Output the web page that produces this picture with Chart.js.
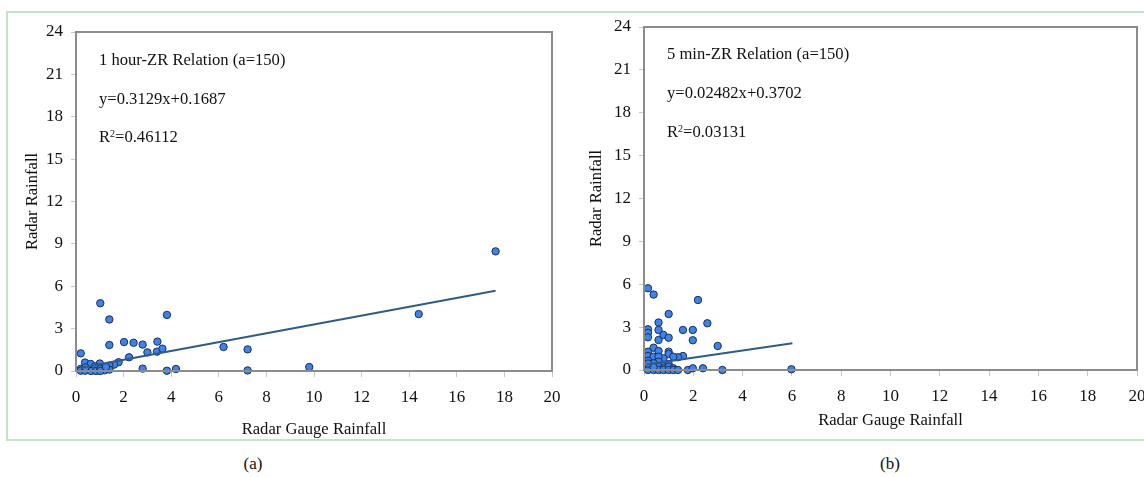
<!DOCTYPE html>
<html>
<head>
<meta charset="utf-8">
<script src="https://cdn.jsdelivr.net/npm/chart.js@4/dist/chart.umd.min.js"></script>
<style>
  body { margin: 0; background: #fff; width: 1144px; height: 477px; overflow: hidden; position: relative; }
  .frame { position: absolute; left: 6px; top: 11px; width: 1160px; height: 430px; border: 2px solid #c4e4c6; box-sizing: border-box; }
  .panel { position: absolute; top: 0; height: 450px; }
  .cap { position: absolute; top: 454px; font: 17px "Liberation Serif", serif; color: #111; transform: translateX(-50%); }
</style>
</head>
<body>
<div class="frame"></div>
<div class="panel" style="left:0;width:572px"><canvas id="hourChart"></canvas></div>
<div class="panel" style="left:572px;width:600px"><canvas id="minChart"></canvas></div>
<div class="cap" style="left:253px">(a)</div>
<div class="cap" style="left:890px">(b)</div>
<script>
// 1 hour ZR relation (a=150)
const hourX = [0.2, 1.02, 1.4, 1.4, 2.02, 2.42, 2.8, 3.42, 3.0, 3.4, 3.63, 3.82, 2.23, 1.79, 1.6, 1.4,
  2.8, 3.82, 4.2, 6.2, 7.21, 7.21, 9.8, 14.4, 17.63,
  0.38, 0.62, 1.0, 0.8, 0.2, 0.2, 0.38, 0.63, 0.84, 1.02, 1.2, 1.4, 0.4, 1.02, 1.26];
const hourY = [1.25, 4.8, 3.65, 1.84, 2.05, 2.0, 1.87, 2.08, 1.32, 1.37, 1.58, 3.97, 0.97, 0.62, 0.45, 0.38,
  0.17, 0.02, 0.14, 1.7, 1.53, 0.04, 0.28, 4.03, 8.47,
  0.6, 0.5, 0.53, 0.33, 0.15, 0.02, 0.02, 0.0, 0.0, 0.15, 0.05, 0.1, 0.26, 0.0, 0.28];
const hourTrendX = [0.2, 17.63];
const hourTrendY = [0.23, 5.68];

// 5 min ZR relation (a=150)
const minX = [0.16, 0.39, 2.19, 1.0, 0.59, 2.57, 0.16, 0.16, 0.16, 0.59, 0.59, 0.79, 1.0, 1.58, 1.98, 1.98,
  2.99, 0.39, 0.16, 0.59, 1.0, 1.0, 1.58, 1.38, 1.19, 0.79, 0.16, 0.39, 0.59, 0.16, 0.59, 0.39,
  0.79, 1.0, 0.16, 0.59, 0.79, 1.0, 1.19, 0.16, 0.39, 0.59, 0.79, 1.0, 1.19, 1.38, 1.78, 1.98,
  2.39, 3.18, 5.98, 0.39, 0.16];
const minY = [5.72, 5.28, 4.9, 3.92, 3.32, 3.27, 2.85, 2.6, 2.29, 2.8, 2.1, 2.45, 2.26, 2.8, 2.8, 2.08,
  1.68, 1.56, 1.28, 1.33, 1.28, 1.12, 0.98, 0.89, 0.93, 0.82, 0.98, 0.93, 0.93, 0.65, 0.58, 0.47,
  0.35, 0.42, 0.23, 0.23, 0.12, 0.23, 0.12, 0.0, 0.0, 0.0, 0.0, 0.0, 0.0, 0.0, 0.0, 0.12,
  0.12, 0.0, 0.05, 0.2, 0.45];
const minTrendX = [0.1, 6.02];
const minTrendY = [0.38, 1.87];

const xTicks = { min: 0, max: 20, step: 2 };
const yTicks = { min: 0, max: 24, step: 3 };

const serif = '"Liberation Serif", "Times New Roman", serif';

function toPoints(xs, ys) {
    return xs.map((x, i) => ({ x: x, y: ys[i] }));
}

// frame around plot area + equation text in the top-left corner
function notesPlugin(lines, offsets) {
    return {
        id: 'notes',
        afterDatasetsDraw(chart) {
            const { ctx, chartArea } = chart;
            ctx.save();
            ctx.strokeStyle = '#8c8c8c';
            ctx.lineWidth = 2;
            ctx.strokeRect(chartArea.left, chartArea.top, chartArea.right - chartArea.left, chartArea.bottom - chartArea.top);
            ctx.fillStyle = '#111';
            ctx.textBaseline = 'middle';
            const x0 = chartArea.left + 23;
            lines.forEach((line, i) => {
                const y = chartArea.top + offsets[i];
                ctx.font = '16.6px ' + serif;
                if (line.sup) {
                    ctx.fillText('R', x0, y);
                    let w = ctx.measureText('R').width;
                    ctx.font = '10px ' + serif;
                    ctx.fillText('2', x0 + w, y - 4);
                    w += ctx.measureText('2').width;
                    ctx.font = '16.6px ' + serif;
                    ctx.fillText(line.text, x0 + w, y);
                } else {
                    ctx.fillText(line.text, x0, y);
                }
            });
            ctx.restore();
        }
    };
}

function createScatter(canvasId, cfg) {
    const canvas = document.getElementById(canvasId);
    return new Chart(canvas.getContext('2d'), {
        type: 'scatter',
        data: {
            datasets: [{
                type: 'line',
                data: toPoints(cfg.trendX, cfg.trendY),
                borderColor: '#2f5c85',
                borderWidth: 2,
                pointRadius: 0,
                fill: false
            }, {
                data: toPoints(cfg.xs, cfg.ys),
                backgroundColor: '#3f82ea',
                borderColor: '#18305a',
                borderWidth: 1,
                pointRadius: 3.7,
                clip: false
            }]
        },
        options: {
            responsive: true,
            maintainAspectRatio: false,
            animation: false,
            layout: { padding: { left: 0, top: cfg.top, right: cfg.right, bottom: 0 } },
            plugins: { legend: { display: false }, tooltip: { enabled: false } },
            scales: {
                x: {
                    type: 'linear',
                    min: xTicks.min,
                    max: xTicks.max,
                    afterFit: (scale) => { scale.height = cfg.xHeight; },
                    ticks: { stepSize: xTicks.step, color: '#111', padding: 10, maxRotation: 0, font: { family: serif, size: 17 } },
                    grid: { drawOnChartArea: false, drawTicks: true, tickLength: 6, color: '#c8c8c8' },
                    border: { display: false },
                    title: { display: true, text: 'Radar Gauge Rainfall', color: '#111', font: { family: serif, size: 16.6 },
                        padding: { top: 0, bottom: cfg.xTitlePad } }
                },
                y: {
                    type: 'linear',
                    min: yTicks.min,
                    max: yTicks.max,
                    afterFit: (scale) => { scale.width = cfg.yWidth; },
                    ticks: { stepSize: yTicks.step, color: '#111', padding: 8, font: { family: serif, size: 17 } },
                    grid: { drawOnChartArea: false, drawTicks: true, tickLength: 5, color: '#c8c8c8' },
                    border: { display: false },
                    title: { display: true, text: 'Radar Rainfall', color: '#111', font: { family: serif, size: 16.6 },
                        padding: { top: cfg.yTitlePad, bottom: 0 } }
                }
            }
        },
        plugins: [notesPlugin(cfg.notes, cfg.noteOffsets)]
    });
}

createScatter('hourChart', {
    xs: hourX, ys: hourY, trendX: hourTrendX, trendY: hourTrendY,
    top: 32, right: 20, xHeight: 79, yWidth: 76, xTitlePad: 10, yTitlePad: 23,
    notes: [{ text: '1 hour-ZR Relation (a=150)' }, { text: 'y=0.3129x+0.1687' }, { text: '=0.46112', sup: true }],
    noteOffsets: [29, 68, 106]
});

createScatter('minChart', {
    xs: minX, ys: minY, trendX: minTrendX, trendY: minTrendY,
    top: 27, right: 35, xHeight: 80, yWidth: 72, xTitlePad: 19, yTitlePad: 15,
    notes: [{ text: '5 min-ZR Relation (a=150)' }, { text: 'y=0.02482x+0.3702' }, { text: '=0.03131', sup: true }],
    noteOffsets: [28, 67, 106]
});
</script>
</body>
</html>
